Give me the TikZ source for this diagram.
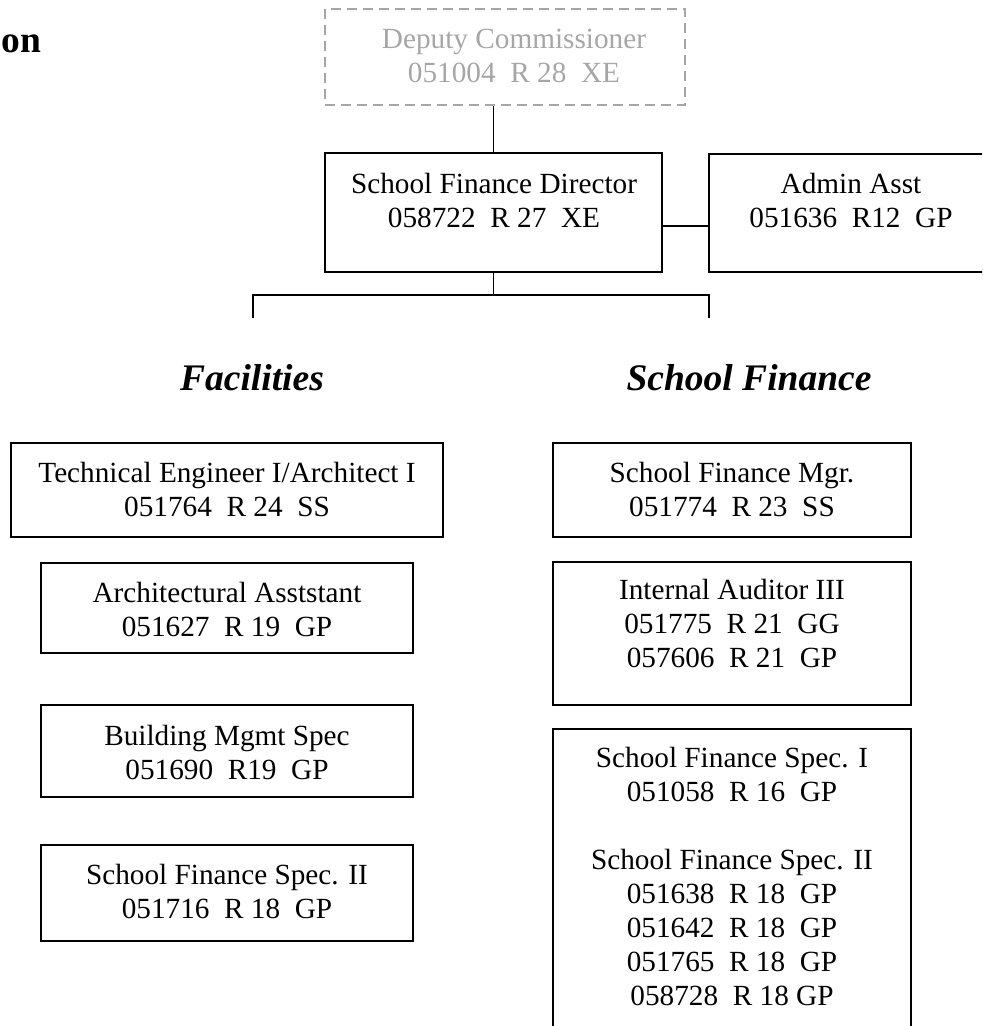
\documentclass[tikz,border=0pt]{standalone}
\usepackage{fontspec}
\setmainfont{Liberation Serif}
\usetikzlibrary{fit}

\begin{document}
\begin{tikzpicture}[x=0.4pt, y=-0.4pt,
    box/.style={draw, line width=0.8pt, inner sep=0pt},
    ghost/.style={draw=black!35, dash pattern=on 4pt off 2.4pt, line width=0.8pt, inner sep=0pt},
    txt/.style={align=center, font=\fontsize{11.7}{13.6}\selectfont, inner sep=0pt},
    head/.style={font=\fontsize{15}{18}\selectfont\bfseries\itshape},
    link/.style={line width=0.6pt}]
    \clip (0,0) rectangle (982,1026);

    % 1. Boxes
    \node[ghost, fit={(325,9) (685,105)}]   (dep)   {};
    \node[box, fit={(325,153) (662,272)}]   (dir)   {};
    \node[box, fit={(709,154) (993,272)}]   (admin) {};
    \node[box, fit={(11,443) (443,537)}]    (tech)  {};
    \node[box, fit={(41,563) (413,653)}]    (arch)  {};
    \node[box, fit={(41,705) (413,797)}]    (bldg)  {};
    \node[box, fit={(41,845) (413,941)}]    (spec)  {};
    \node[box, fit={(553,443) (911,537)}]   (mgr)   {};
    \node[box, fit={(553,562) (911,705)}]   (aud)   {};
    \node[box, fit={(553,729) (911,1045)}]  (sfs)   {};

    % 2. Texts
    \node[anchor=west, inner sep=0pt, font=\fontsize{15}{18}\selectfont\bfseries] (title) at (1,44) {on};
    \node[txt, text=black!35] (depT) at (514,56) {Deputy Commissioner\\051004~~R 28~~XE};
    \node[txt] (dirT)   at (494,200) {School Finance Director\\058722~~R 27~~XE};
    \node[txt] (adminT) at (851,200) {Admin Asst\\051636~~R12~~GP};
    \node[head] (fac) at (252,378) {Facilities};
    \node[head] (fin) at (749,378) {School Finance};
    \node[txt] (techT) at (227,489) {Technical Engineer I/Architect I\\051764~~R 24~~SS};
    \node[txt] (archT) at (227,609) {Architectural Asststant\\051627~~R 19~~GP};
    \node[txt] (bldgT) at (227,752) {Building Mgmt Spec\\051690~~R19~~GP};
    \node[txt] (specT) at (227,891) {School Finance Spec. II\\051716~~R 18~~GP};
    \node[txt] (mgrT)  at (732,489) {School Finance Mgr.\\051774~~R 23~~SS};
    \node[txt] (audT)  at (732,623) {Internal Auditor III\\051775~~R 21~~GG\\057606~~R 21~~GP};
    \node[txt] (sfsT)  at (732,876) {School Finance Spec. I\\051058~~R 16~~GP\\[13.6pt]
        School Finance Spec. II\\051638~~R 18~~GP\\051642~~R 18~~GP\\051765~~R 18~~GP\\058728~~R 18 GP};

    % 3. Lines
    \coordinate (dirR)  at (662,226);
    \coordinate (busL)  at (253,295);
    \coordinate (busR)  at (709,295);
    \coordinate (tickL) at (253,318);
    \coordinate (tickR) at (709,318);
    \begin{scope}[link]
        \draw (dir.north) -- (dir.north |- dep.south);
        \draw (dirR) -- (dirR -| admin.west);
        \draw (dir.south) -- (dir.south |- busL);
        \draw (tickL) -- (busL) -- (busR) -- (tickR);
    \end{scope}
\end{tikzpicture}
\end{document}
